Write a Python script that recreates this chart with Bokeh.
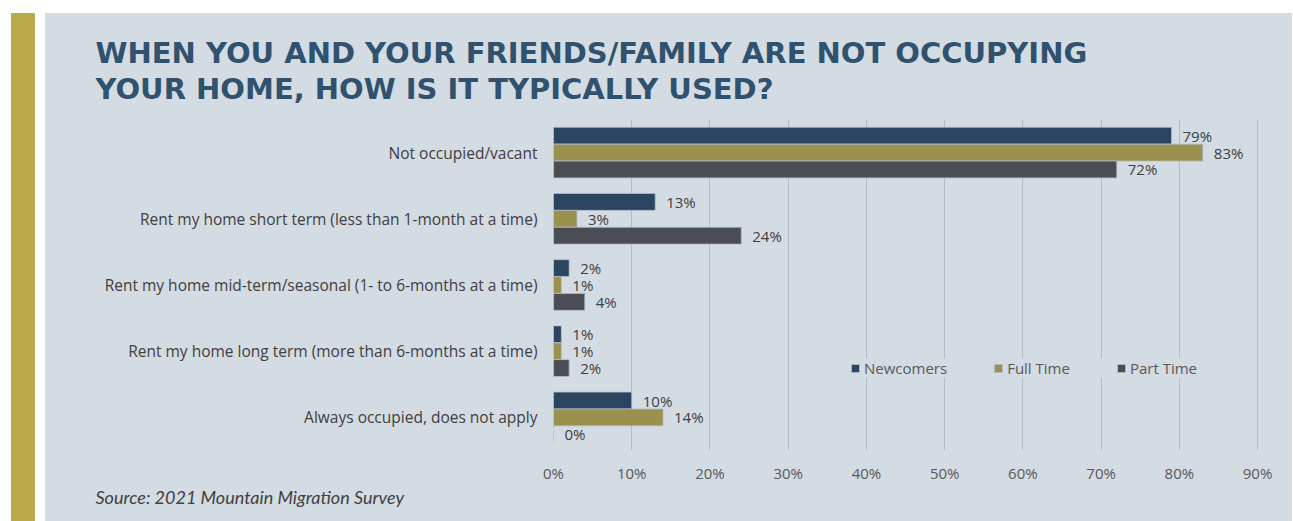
from bokeh.plotting import figure
from bokeh.models import (ColumnDataSource, FactorRange, Range1d, FixedTicker,
                          PrintfTickFormatter, Title, Div, Legend)
from bokeh.layouts import row
from bokeh.transform import dodge
from bokeh.core.properties import value
from bokeh.embed import file_html
from bokeh.resources import INLINE

categories = [
    "Not occupied/vacant",
    "Rent my home short term (less than 1-month at a time)",
    "Rent my home mid-term/seasonal (1- to 6-months at a time)",
    "Rent my home long term (more than 6-months at a time)",
    "Always occupied, does not apply",
]
newcomers = [79, 13, 2, 1, 10]
full_time = [83, 3, 1, 1, 14]
part_time = [72, 24, 4, 2, 0]
series_names = ["Newcomers", "Full Time", "Part Time"]
x_ticks = [0, 10, 20, 30, 40, 50, 60, 70, 80, 90]

title_lines = ["WHEN YOU AND YOUR FRIENDS/FAMILY ARE NOT OCCUPYING",
               "YOUR HOME, HOW IS IT TYPICALLY USED?"]
source_text = "Source: 2021 Mountain Migration Survey"

PANEL = "#d3dbe3"
STRIPE = "#b9ab4b"
COLORS = ["#2b4461", "#9a914e", "#4a4d53"]
FONT = "Open Sans"

src = ColumnDataSource(dict(
    cat=categories,
    nc=newcomers, ft=full_time, pt=part_time,
    nc_l=[f"{v}%" for v in newcomers],
    ft_l=[f"{v}%" for v in full_time],
    pt_l=[f"{v}%" for v in part_time],
))

p = figure(width=1247, height=508,
           y_range=FactorRange(factors=list(reversed(categories))),
           x_range=Range1d(0, 90.5),
           output_backend="svg", toolbar_location=None,
           min_border_left=508, min_border_right=31,
           min_border_top=106, min_border_bottom=71)
p.background_fill_color = PANEL
p.border_fill_color = PANEL
p.outline_line_color = None
p.styles = {"background-color": PANEL}

H = 0.255
offsets = [H, 0, -H]
cols = ["nc", "ft", "pt"]
renderers = []
for name, col, off, color in zip(series_names, cols, offsets, COLORS):
    r = p.hbar(y=dodge("cat", off, range=p.y_range), right=col, left=0, height=H,
               source=src, fill_color=color, line_color="#b4bcc8", line_width=0.8)
    renderers.append((name, [r]))
    p.text(x=col, y=dodge("cat", off, range=p.y_range), text=col + "_l", source=src,
           x_offset=11, text_baseline="middle", text_align="left",
           text_font=value(FONT), text_font_size="15px", text_color="#404040")

legend = Legend(items=renderers, orientation="horizontal", location=(297, 72),
                glyph_width=10, glyph_height=10, label_standoff=4, spacing=46,
                padding=6, margin=0, border_line_color=None,
                background_fill_color=PANEL, background_fill_alpha=1.0,
                label_text_font=FONT, label_text_font_size="15px",
                label_text_color="#595959")
p.add_layout(legend, "center")

# axes
p.xaxis.ticker = FixedTicker(ticks=x_ticks)
p.xaxis.formatter = PrintfTickFormatter(format="%d%%")
p.xaxis.axis_line_color = None
p.xaxis.major_tick_line_color = None
p.xaxis.minor_tick_line_color = None
p.xaxis.major_tick_out = 0
p.xaxis.minor_tick_out = 0
p.xaxis.major_label_standoff = 12
p.xaxis.major_label_text_font = FONT
p.xaxis.major_label_text_font_size = "15px"
p.xaxis.major_label_text_color = "#595959"

p.yaxis.axis_line_color = None
p.yaxis.major_tick_line_color = None
p.yaxis.minor_tick_line_color = None
p.yaxis.major_tick_out = 0
p.yaxis.minor_tick_out = 0
p.yaxis.major_label_standoff = 16
p.yaxis.major_label_text_font = FONT
p.yaxis.major_label_text_font_size = "15.5px"
p.yaxis.major_label_text_color = "#404040"

p.xgrid.grid_line_color = "#b3bbc6"
p.xgrid.ticker = FixedTicker(ticks=x_ticks)
p.ygrid.grid_line_color = None

# title (two lines) and source
p.add_layout(Title(text="\n".join(title_lines), align="left", offset=-458, standoff=27,
                   text_font="DejaVu Sans", text_font_style="bold",
                   text_font_size="29px", text_color="#30526f",
                   text_line_height=1.05), "above")
p.add_layout(Title(text=source_text, align="left", offset=-458, standoff=-4,
                   text_font="Lato", text_font_style="italic",
                   text_font_size="18px", text_color="#404040"), "below")

stripe = Div(width=24, height=508, margin=0, styles={"background-color": STRIPE})
p.margin = 0
layout = row(stripe, p, spacing=10, margin=(13, 0, 0, 11))

open("out.html", "w").write(file_html(layout, INLINE))
